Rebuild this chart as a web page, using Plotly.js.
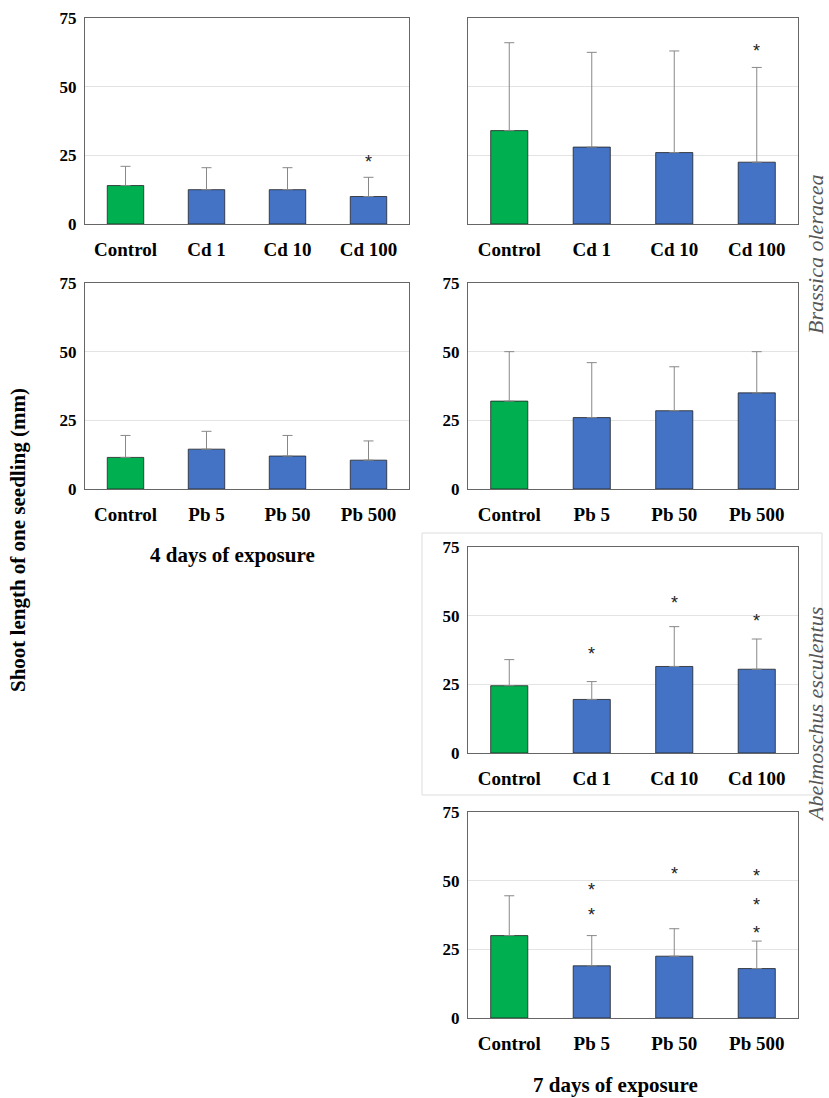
<!DOCTYPE html>
<html>
<head>
<script src="https://cdn.plot.ly/plotly-3.0.1.min.js"></script>
<style>body{margin:0;background:#fff}</style>
</head>
<body>
<div id="chart" style="width:829px;height:1098px"></div>
<script>
// Shoot length panels: 4 and 7 days of exposure
const cdCats = ['Control', 'Cd 1', 'Cd 10', 'Cd 100'];
const pbCats = ['Control', 'Pb 5', 'Pb 50', 'Pb 500'];

// panel values (mean) and upper error (sd)
const bo4Cd = [14, 12.5, 12.5, 10];      const bo4CdErr = [7, 8, 8, 7];
const bo7Cd = [34, 28, 26, 22.5];        const bo7CdErr = [32, 34.5, 37, 34.5];
const bo4Pb = [11.5, 14.5, 12, 10.5];    const bo4PbErr = [8, 6.5, 7.5, 7];
const bo7Pb = [32, 26, 28.5, 35];        const bo7PbErr = [18, 20, 16, 15];
const ae7Cd = [24.5, 19.5, 31.5, 30.5];  const ae7CdErr = [9.5, 6.5, 14.5, 11];
const ae7Pb = [30, 19, 22.5, 18];        const ae7PbErr = [14.5, 11, 10, 10];

// significance stars: [category index, y]
const bo4CdStars = [[3, 24]];
const bo7CdStars = [[3, 64.5]];
const ae7CdStars = [[1, 37.5], [2, 56], [3, 49.5]];
const ae7PbStars = [[1, 48], [1, 39], [2, 54], [3, 53], [3, 42.5], [3, 32.5]];

const W = 829, H = 1098;
const green = '#00b050', blue = '#4472c4';
const font = 'Times New Roman, Liberation Serif, serif';

const panels = [
  { cats: cdCats, y: bo4Cd, e: bo4CdErr, stars: bo4CdStars, x0: 85, x1: 409, top: 18, labels: true },
  { cats: cdCats, y: bo7Cd, e: bo7CdErr, stars: bo7CdStars, x0: 468, x1: 798, top: 18, labels: false },
  { cats: pbCats, y: bo4Pb, e: bo4PbErr, stars: [], x0: 85, x1: 409, top: 283, labels: true },
  { cats: pbCats, y: bo7Pb, e: bo7PbErr, stars: [], x0: 468, x1: 798, top: 283, labels: true },
  { cats: cdCats, y: ae7Cd, e: ae7CdErr, stars: ae7CdStars, x0: 468, x1: 798, top: 547, labels: true },
  { cats: pbCats, y: ae7Pb, e: ae7PbErr, stars: ae7PbStars, x0: 468, x1: 798, top: 812, labels: true },
];

const data = [], annotations = [], shapes = [];
const layout = {
  width: W, height: H, margin: { l: 0, r: 0, t: 0, b: 0 },
  paper_bgcolor: '#fff', plot_bgcolor: '#fff', showlegend: false,
  font: { family: font, color: '#000' },
};

panels.forEach((p, i) => {
  const n = i + 1, xa = 'x' + (n > 1 ? n : ''), ya = 'y' + (n > 1 ? n : '');
  data.push({
    type: 'bar', x: p.cats, y: p.y, xaxis: xa, yaxis: ya, width: 0.45,
    marker: { color: p.cats.map((c, k) => k === 0 ? green : blue), line: { color: '#222', width: 0.8 } },
    error_y: { type: 'data', array: p.e, arrayminus: p.e.map(() => 0), symmetric: false, color: '#888', thickness: 1, width: 5 },
  });
  const bottom = p.top + 206;
  layout['xaxis' + (n > 1 ? n : '')] = {
    domain: [p.x0 / W, p.x1 / W], anchor: ya, showline: true, mirror: true, linecolor: '#666', linewidth: 1,
    tickfont: { size: 19, family: font, weight: 'bold' }, ticks: '', ticklabelstandoff: 8, fixedrange: true,
  };
  layout['yaxis' + (n > 1 ? n : '')] = {
    domain: [1 - bottom / H, 1 - p.top / H], anchor: xa, range: [0, 75], tickvals: [0, 25, 50, 75],
    showticklabels: p.labels, showgrid: true, gridcolor: '#e3e3e3', zeroline: false,
    showline: true, mirror: true, linecolor: '#666', linewidth: 1,
    tickfont: { size: 17, family: font, weight: 'bold' }, ticks: '', ticklabelstandoff: 4,
  };
  p.stars.forEach(s => annotations.push({
    xref: xa, yref: ya, x: p.cats[s[0]], y: s[1], text: '*', showarrow: false,
    font: { size: 18, family: 'Arial', color: '#222' }, yshift: -4,
  }));
});

shapes.push({ type: 'rect', xref: 'paper', yref: 'paper', x0: 422 / W, x1: 822 / W, y0: 1 - 795 / H, y1: 1 - 533 / H, line: { color: '#ddd', width: 1 } });

const txt = (x, y, text, opts) => Object.assign({
  xref: 'paper', yref: 'paper', x: x / W, y: 1 - y / H, text, showarrow: false,
  xanchor: 'center', yanchor: 'middle', font: { size: 21, family: font, color: '#000', weight: 'bold' },
}, opts || {});

annotations.push(txt(18, 540, 'Shoot length of one seedling (mm)', { textangle: -90 }));
annotations.push(txt(232, 555, '4 days of exposure'));
annotations.push(txt(615, 1085, '7 days of exposure'));
annotations.push(txt(815, 255, '<i>Brassica oleracea</i>', { textangle: -90, font: { size: 22, family: font, color: '#555' } }));
annotations.push(txt(815, 715, '<i>Abelmoschus esculentus</i>', { textangle: -90, font: { size: 22, family: font, color: '#555' } }));

layout.annotations = annotations;
layout.shapes = shapes;

Plotly.newPlot('chart', data, layout, { displayModeBar: false, staticPlot: true });
</script>
</body>
</html>
